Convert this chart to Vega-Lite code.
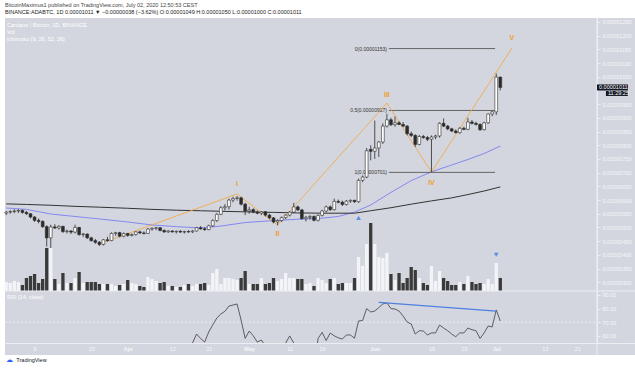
{
  "$schema": "https://vega.github.io/schema/vega-lite/v6.json",
  "width": 630,
  "height": 337,
  "autosize": {"type": "none"},
  "padding": {"left": 5, "top": 18, "right": 0, "bottom": 13},
  "background": "#ffffff",
  "config": {
    "view": {"fill": "#d3d6de", "stroke": null},
    "font": "Liberation Sans",
    "text": {"font": "Liberation Sans"}
  },
  "title": {
    "text": "BitcoinMaximus1 published on TradingView.com, July 02, 2020 12:50:53 CEST",
    "subtitle": "BINANCE:ADABTC, 1D  0.00001011 ▼ −0.00000038 (−3.62%)  O:0.00001049 H:0.00001050 L:0.00001000 C:0.00001011",
    "anchor": "start",
    "frame": "group",
    "font": "Liberation Sans",
    "subtitleFont": "Liberation Sans",
    "fontSize": 5.5,
    "fontWeight": "normal",
    "color": "#444444",
    "subtitleFontSize": 5.5,
    "subtitleColor": "#222222",
    "subtitlePadding": 2,
    "offset": 2
  },
  "datasets": {
    "candles": [
      {"date":"2020-03-02","open":0.00000552,"high":0.00000560,"low":0.00000545,"close":0.00000556,"volume":9},
      {"date":"2020-03-03","open":0.00000556,"high":0.00000563,"low":0.00000550,"close":0.00000558,"volume":8},
      {"date":"2020-03-04","open":0.00000558,"high":0.00000566,"low":0.00000552,"close":0.00000560,"volume":10},
      {"date":"2020-03-05","open":0.00000560,"high":0.00000567,"low":0.00000553,"close":0.00000562,"volume":9},
      {"date":"2020-03-06","open":0.00000562,"high":0.00000566,"low":0.00000550,"close":0.00000555,"volume":6},
      {"date":"2020-03-07","open":0.00000555,"high":0.00000560,"low":0.00000546,"close":0.00000550,"volume":13},
      {"date":"2020-03-08","open":0.00000550,"high":0.00000552,"low":0.00000533,"close":0.00000538,"volume":15},
      {"date":"2020-03-09","open":0.00000538,"high":0.00000542,"low":0.00000520,"close":0.00000526,"volume":17},
      {"date":"2020-03-10","open":0.00000526,"high":0.00000533,"low":0.00000515,"close":0.00000522,"volume":8},
      {"date":"2020-03-11","open":0.00000522,"high":0.00000526,"low":0.00000498,"close":0.00000503,"volume":12},
      {"date":"2020-03-12","open":0.00000503,"high":0.00000508,"low":0.00000430,"close":0.00000462,"volume":43},
      {"date":"2020-03-13","open":0.00000462,"high":0.00000510,"low":0.00000425,"close":0.00000502,"volume":43},
      {"date":"2020-03-14","open":0.00000502,"high":0.00000512,"low":0.00000494,"close":0.00000498,"volume":12},
      {"date":"2020-03-15","open":0.00000498,"high":0.00000508,"low":0.00000492,"close":0.00000504,"volume":7},
      {"date":"2020-03-16","open":0.00000504,"high":0.00000506,"low":0.00000480,"close":0.00000485,"volume":18},
      {"date":"2020-03-17","open":0.00000485,"high":0.00000492,"low":0.00000478,"close":0.00000487,"volume":8},
      {"date":"2020-03-18","open":0.00000487,"high":0.00000490,"low":0.00000476,"close":0.00000483,"volume":8},
      {"date":"2020-03-19","open":0.00000483,"high":0.00000510,"low":0.00000478,"close":0.00000500,"volume":13},
      {"date":"2020-03-20","open":0.00000500,"high":0.00000502,"low":0.00000470,"close":0.00000474,"volume":19},
      {"date":"2020-03-21","open":0.00000474,"high":0.00000480,"low":0.00000465,"close":0.00000476,"volume":8},
      {"date":"2020-03-22","open":0.00000476,"high":0.00000478,"low":0.00000458,"close":0.00000462,"volume":9},
      {"date":"2020-03-23","open":0.00000462,"high":0.00000466,"low":0.00000448,"close":0.00000452,"volume":9},
      {"date":"2020-03-24","open":0.00000452,"high":0.00000458,"low":0.00000440,"close":0.00000446,"volume":9},
      {"date":"2020-03-25","open":0.00000446,"high":0.00000450,"low":0.00000432,"close":0.00000438,"volume":7},
      {"date":"2020-03-26","open":0.00000438,"high":0.00000458,"low":0.00000434,"close":0.00000455,"volume":7},
      {"date":"2020-03-27","open":0.00000455,"high":0.00000466,"low":0.00000448,"close":0.00000452,"volume":7},
      {"date":"2020-03-28","open":0.00000452,"high":0.00000482,"low":0.00000450,"close":0.00000478,"volume":7},
      {"date":"2020-03-29","open":0.00000478,"high":0.00000484,"low":0.00000470,"close":0.00000481,"volume":5},
      {"date":"2020-03-30","open":0.00000481,"high":0.00000484,"low":0.00000464,"close":0.00000468,"volume":6},
      {"date":"2020-03-31","open":0.00000468,"high":0.00000482,"low":0.00000464,"close":0.00000478,"volume":7},
      {"date":"2020-04-01","open":0.00000478,"high":0.00000480,"low":0.00000466,"close":0.00000471,"volume":11},
      {"date":"2020-04-02","open":0.00000471,"high":0.00000478,"low":0.00000467,"close":0.00000474,"volume":8},
      {"date":"2020-04-03","open":0.00000474,"high":0.00000486,"low":0.00000470,"close":0.00000484,"volume":7},
      {"date":"2020-04-04","open":0.00000484,"high":0.00000488,"low":0.00000476,"close":0.00000480,"volume":5},
      {"date":"2020-04-05","open":0.00000480,"high":0.00000486,"low":0.00000474,"close":0.00000478,"volume":4},
      {"date":"2020-04-06","open":0.00000478,"high":0.00000498,"low":0.00000476,"close":0.00000494,"volume":14},
      {"date":"2020-04-07","open":0.00000494,"high":0.00000500,"low":0.00000488,"close":0.00000497,"volume":12},
      {"date":"2020-04-08","open":0.00000497,"high":0.00000502,"low":0.00000490,"close":0.00000499,"volume":10},
      {"date":"2020-04-09","open":0.00000499,"high":0.00000501,"low":0.00000486,"close":0.00000489,"volume":8},
      {"date":"2020-04-10","open":0.00000489,"high":0.00000493,"low":0.00000480,"close":0.00000484,"volume":9},
      {"date":"2020-04-11","open":0.00000484,"high":0.00000490,"low":0.00000480,"close":0.00000487,"volume":5},
      {"date":"2020-04-12","open":0.00000487,"high":0.00000490,"low":0.00000481,"close":0.00000484,"volume":5},
      {"date":"2020-04-13","open":0.00000484,"high":0.00000489,"low":0.00000478,"close":0.00000486,"volume":4},
      {"date":"2020-04-14","open":0.00000486,"high":0.00000490,"low":0.00000481,"close":0.00000483,"volume":4},
      {"date":"2020-04-15","open":0.00000483,"high":0.00000488,"low":0.00000478,"close":0.00000485,"volume":6},
      {"date":"2020-04-16","open":0.00000485,"high":0.00000490,"low":0.00000480,"close":0.00000484,"volume":7},
      {"date":"2020-04-17","open":0.00000484,"high":0.00000490,"low":0.00000480,"close":0.00000487,"volume":5},
      {"date":"2020-04-18","open":0.00000487,"high":0.00000502,"low":0.00000485,"close":0.00000499,"volume":7},
      {"date":"2020-04-19","open":0.00000499,"high":0.00000505,"low":0.00000492,"close":0.00000495,"volume":7},
      {"date":"2020-04-20","open":0.00000495,"high":0.00000500,"low":0.00000488,"close":0.00000492,"volume":8},
      {"date":"2020-04-21","open":0.00000492,"high":0.00000510,"low":0.00000490,"close":0.00000506,"volume":6},
      {"date":"2020-04-22","open":0.00000506,"high":0.00000530,"low":0.00000502,"close":0.00000525,"volume":18},
      {"date":"2020-04-23","open":0.00000525,"high":0.00000552,"low":0.00000520,"close":0.00000548,"volume":22},
      {"date":"2020-04-24","open":0.00000548,"high":0.00000578,"low":0.00000545,"close":0.00000572,"volume":7},
      {"date":"2020-04-25","open":0.00000572,"high":0.00000585,"low":0.00000562,"close":0.00000576,"volume":13},
      {"date":"2020-04-26","open":0.00000576,"high":0.00000605,"low":0.00000565,"close":0.00000600,"volume":13},
      {"date":"2020-04-27","open":0.00000600,"high":0.00000612,"low":0.00000592,"close":0.00000606,"volume":12},
      {"date":"2020-04-28","open":0.00000606,"high":0.00000615,"low":0.00000598,"close":0.00000608,"volume":11},
      {"date":"2020-04-29","open":0.00000608,"high":0.00000612,"low":0.00000580,"close":0.00000585,"volume":13},
      {"date":"2020-04-30","open":0.00000585,"high":0.00000590,"low":0.00000545,"close":0.00000560,"volume":20},
      {"date":"2020-05-01","open":0.00000560,"high":0.00000575,"low":0.00000550,"close":0.00000565,"volume":7},
      {"date":"2020-05-02","open":0.00000565,"high":0.00000570,"low":0.00000552,"close":0.00000556,"volume":7},
      {"date":"2020-05-03","open":0.00000556,"high":0.00000562,"low":0.00000548,"close":0.00000552,"volume":7},
      {"date":"2020-05-04","open":0.00000552,"high":0.00000560,"low":0.00000545,"close":0.00000557,"volume":13},
      {"date":"2020-05-05","open":0.00000557,"high":0.00000560,"low":0.00000540,"close":0.00000545,"volume":7},
      {"date":"2020-05-06","open":0.00000545,"high":0.00000550,"low":0.00000530,"close":0.00000535,"volume":8},
      {"date":"2020-05-07","open":0.00000535,"high":0.00000538,"low":0.00000515,"close":0.00000520,"volume":13},
      {"date":"2020-05-08","open":0.00000520,"high":0.00000530,"low":0.00000508,"close":0.00000525,"volume":10},
      {"date":"2020-05-09","open":0.00000525,"high":0.00000540,"low":0.00000520,"close":0.00000536,"volume":12},
      {"date":"2020-05-10","open":0.00000536,"high":0.00000548,"low":0.00000530,"close":0.00000545,"volume":18},
      {"date":"2020-05-11","open":0.00000545,"high":0.00000560,"low":0.00000540,"close":0.00000556,"volume":13},
      {"date":"2020-05-12","open":0.00000556,"high":0.00000590,"low":0.00000552,"close":0.00000575,"volume":13},
      {"date":"2020-05-13","open":0.00000575,"high":0.00000580,"low":0.00000560,"close":0.00000564,"volume":12},
      {"date":"2020-05-14","open":0.00000564,"high":0.00000568,"low":0.00000528,"close":0.00000532,"volume":12},
      {"date":"2020-05-15","open":0.00000532,"high":0.00000542,"low":0.00000522,"close":0.00000537,"volume":7},
      {"date":"2020-05-16","open":0.00000537,"high":0.00000545,"low":0.00000528,"close":0.00000540,"volume":8},
      {"date":"2020-05-17","open":0.00000540,"high":0.00000544,"low":0.00000522,"close":0.00000526,"volume":5},
      {"date":"2020-05-18","open":0.00000526,"high":0.00000548,"low":0.00000522,"close":0.00000544,"volume":13},
      {"date":"2020-05-19","open":0.00000544,"high":0.00000565,"low":0.00000540,"close":0.00000560,"volume":11},
      {"date":"2020-05-20","open":0.00000560,"high":0.00000580,"low":0.00000555,"close":0.00000575,"volume":8},
      {"date":"2020-05-21","open":0.00000575,"high":0.00000580,"low":0.00000560,"close":0.00000565,"volume":12},
      {"date":"2020-05-22","open":0.00000565,"high":0.00000605,"low":0.00000562,"close":0.00000595,"volume":13},
      {"date":"2020-05-23","open":0.00000595,"high":0.00000602,"low":0.00000588,"close":0.00000592,"volume":7},
      {"date":"2020-05-24","open":0.00000592,"high":0.00000598,"low":0.00000578,"close":0.00000584,"volume":8},
      {"date":"2020-05-25","open":0.00000584,"high":0.00000600,"low":0.00000580,"close":0.00000596,"volume":8},
      {"date":"2020-05-26","open":0.00000596,"high":0.00000602,"low":0.00000590,"close":0.00000599,"volume":8},
      {"date":"2020-05-27","open":0.00000599,"high":0.00000601,"low":0.00000590,"close":0.00000594,"volume":13},
      {"date":"2020-05-28","open":0.00000594,"high":0.00000678,"low":0.00000590,"close":0.00000672,"volume":34},
      {"date":"2020-05-29","open":0.00000672,"high":0.00000690,"low":0.00000665,"close":0.00000684,"volume":25},
      {"date":"2020-05-30","open":0.00000684,"high":0.00000790,"low":0.00000680,"close":0.00000780,"volume":47},
      {"date":"2020-05-31","open":0.00000785,"high":0.00000800,"low":0.00000745,"close":0.00000778,"volume":68},
      {"date":"2020-06-01","open":0.00000778,"high":0.00000890,"low":0.00000750,"close":0.00000790,"volume":47},
      {"date":"2020-06-02","open":0.00000790,"high":0.00000815,"low":0.00000757,"close":0.00000812,"volume":34},
      {"date":"2020-06-03","open":0.00000812,"high":0.00000880,"low":0.00000805,"close":0.00000870,"volume":33},
      {"date":"2020-06-04","open":0.00000870,"high":0.00000915,"low":0.00000865,"close":0.00000893,"volume":38},
      {"date":"2020-06-05","open":0.00000893,"high":0.00000900,"low":0.00000870,"close":0.00000875,"volume":17},
      {"date":"2020-06-06","open":0.00000875,"high":0.00000905,"low":0.00000868,"close":0.00000882,"volume":11},
      {"date":"2020-06-07","open":0.00000882,"high":0.00000888,"low":0.00000874,"close":0.00000876,"volume":18},
      {"date":"2020-06-08","open":0.00000876,"high":0.00000885,"low":0.00000866,"close":0.00000870,"volume":8},
      {"date":"2020-06-09","open":0.00000870,"high":0.00000874,"low":0.00000836,"close":0.00000842,"volume":13},
      {"date":"2020-06-10","open":0.00000842,"high":0.00000850,"low":0.00000830,"close":0.00000836,"volume":24},
      {"date":"2020-06-11","open":0.00000836,"high":0.00000840,"low":0.00000794,"close":0.00000803,"volume":21},
      {"date":"2020-06-12","open":0.00000803,"high":0.00000838,"low":0.00000800,"close":0.00000832,"volume":13},
      {"date":"2020-06-13","open":0.00000832,"high":0.00000838,"low":0.00000824,"close":0.00000828,"volume":8},
      {"date":"2020-06-14","open":0.00000828,"high":0.00000834,"low":0.00000815,"close":0.00000822,"volume":6},
      {"date":"2020-06-15","open":0.00000822,"high":0.00000836,"low":0.00000702,"close":0.00000830,"volume":25},
      {"date":"2020-06-16","open":0.00000830,"high":0.00000838,"low":0.00000822,"close":0.00000834,"volume":10},
      {"date":"2020-06-17","open":0.00000834,"high":0.00000884,"low":0.00000828,"close":0.00000880,"volume":20},
      {"date":"2020-06-18","open":0.00000880,"high":0.00000898,"low":0.00000866,"close":0.00000870,"volume":13},
      {"date":"2020-06-19","open":0.00000870,"high":0.00000874,"low":0.00000855,"close":0.00000860,"volume":10},
      {"date":"2020-06-20","open":0.00000860,"high":0.00000864,"low":0.00000848,"close":0.00000852,"volume":6},
      {"date":"2020-06-21","open":0.00000852,"high":0.00000858,"low":0.00000843,"close":0.00000846,"volume":6},
      {"date":"2020-06-22","open":0.00000846,"high":0.00000866,"low":0.00000842,"close":0.00000862,"volume":9},
      {"date":"2020-06-23","open":0.00000862,"high":0.00000868,"low":0.00000855,"close":0.00000858,"volume":7},
      {"date":"2020-06-24","open":0.00000858,"high":0.00000900,"low":0.00000855,"close":0.00000885,"volume":15},
      {"date":"2020-06-25","open":0.00000885,"high":0.00000892,"low":0.00000876,"close":0.00000880,"volume":9},
      {"date":"2020-06-26","open":0.00000880,"high":0.00000886,"low":0.00000872,"close":0.00000876,"volume":7},
      {"date":"2020-06-27","open":0.00000876,"high":0.00000880,"low":0.00000852,"close":0.00000857,"volume":8},
      {"date":"2020-06-28","open":0.00000857,"high":0.00000886,"low":0.00000854,"close":0.00000882,"volume":7},
      {"date":"2020-06-29","open":0.00000882,"high":0.00000916,"low":0.00000878,"close":0.00000914,"volume":12},
      {"date":"2020-06-30","open":0.00000914,"high":0.00000926,"low":0.00000906,"close":0.00000922,"volume":7},
      {"date":"2020-07-01","open":0.00000922,"high":0.00001062,"low":0.00000910,"close":0.00001049,"volume":28},
      {"date":"2020-07-02","open":0.00001049,"high":0.00001050,"low":0.00001000,"close":0.00001011,"volume":13}
    ],
    "ma": [
      {"date":"2020-03-02","fast":0.00000571,"slow":0.00000586},
      {"date":"2020-03-07","fast":0.00000566,"slow":0.00000584},
      {"date":"2020-03-13","fast":0.00000549,"slow":0.00000581},
      {"date":"2020-03-19","fast":0.00000540,"slow":0.00000577},
      {"date":"2020-03-25","fast":0.00000531,"slow":0.00000574},
      {"date":"2020-04-01","fast":0.00000520,"slow":0.00000570},
      {"date":"2020-04-07","fast":0.00000509,"slow":0.00000566},
      {"date":"2020-04-13","fast":0.00000503,"slow":0.00000563},
      {"date":"2020-04-19","fast":0.00000498,"slow":0.00000561},
      {"date":"2020-04-24","fast":0.00000505,"slow":0.00000559},
      {"date":"2020-04-30","fast":0.00000518,"slow":0.00000557},
      {"date":"2020-05-07","fast":0.00000525,"slow":0.00000555},
      {"date":"2020-05-13","fast":0.00000530,"slow":0.00000553},
      {"date":"2020-05-19","fast":0.00000534,"slow":0.00000552},
      {"date":"2020-05-23","fast":0.00000540,"slow":0.00000552},
      {"date":"2020-05-27","fast":0.00000556,"slow":0.00000552},
      {"date":"2020-05-31","fast":0.00000582,"slow":0.00000561},
      {"date":"2020-06-05","fast":0.00000628,"slow":0.00000572},
      {"date":"2020-06-10","fast":0.00000671,"slow":0.00000585},
      {"date":"2020-06-15","fast":0.00000703,"slow":0.00000597},
      {"date":"2020-06-20","fast":0.00000728,"slow":0.00000608},
      {"date":"2020-06-24","fast":0.00000748,"slow":0.00000620},
      {"date":"2020-06-28","fast":0.00000770,"slow":0.00000633},
      {"date":"2020-07-02","fast":0.00000797,"slow":0.00000648}
    ],
    "wave": [
      {"date":"2020-03-25","price":0.00000440},
      {"date":"2020-04-28","price":0.00000622},
      {"date":"2020-05-08","price":0.00000509},
      {"date":"2020-06-04","price":0.00000954},
      {"date":"2020-06-15","price":0.00000702},
      {"date":"2020-07-04T21:00:00Z","price":0.00001155}
    ],
    "waveLabels": [
      {"date":"2020-04-28","price":0.00000659,"label":"I"},
      {"date":"2020-05-08","price":0.00000476,"label":"II"},
      {"date":"2020-06-04","price":0.00000983,"label":"III"},
      {"date":"2020-06-15","price":0.00000664,"label":"IV"},
      {"date":"2020-07-04T21:00:00Z","price":0.00001192,"label":"V"}
    ],
    "fib": [
      {"date":"2020-06-04T12:00:00Z","end":"2020-06-30T17:00:00Z","level":0.00001153,"label":"0(0.00001153)"},
      {"date":"2020-06-04T12:00:00Z","end":"2020-06-30T17:00:00Z","level":0.00000927,"label":"0.5(0.00000927)"},
      {"date":"2020-06-04T12:00:00Z","end":"2020-06-30T17:00:00Z","level":0.00000701,"label":"1(0.00000701)"}
    ],
    "signals": [
      {"date":"2020-05-28","price":0.00000535,"shape":"triangle-up"},
      {"date":"2020-07-01","price":0.00000400,"shape":"triangle-down"}
    ],
    "legend": [
      {"date":"2020-03-02T05:00:00Z","price":0.00001239,"text":"Cardano / Bitcoin, 1D, BINANCE"},
      {"date":"2020-03-02T05:00:00Z","price":0.00001214,"text":"Vol"},
      {"date":"2020-03-02T05:00:00Z","price":0.00001188,"text":"Ichimoku (9, 26, 52, 26)"}
    ],
    "priceBox": [
      {"date":"2020-07-25T21:00:00Z","end":"2020-08-02T12:00:00Z","top":0.00001022,"bottom":0.00001000},
      {"date":"2020-07-28T02:00:00Z","end":"2020-08-02T12:00:00Z","top":0.00000998,"bottom":0.00000980}
    ],
    "priceBoxText": [
      {"date":"2020-07-26T09:00:00Z","price":0.00001011,"text":"0.00001011"},
      {"date":"2020-07-28T14:00:00Z","price":0.00000989,"text":"11:29:25"}
    ],
    "panelBottom": [
      {"date":"2020-03-01T16:48:00Z","end":"2020-08-04T06:14:00Z","price":0.00000268}
    ],
    "axisEdge": [
      {"date":"2020-07-25T21:00:00Z"}
    ],
    "rsiLevel": [
      {"date":"2020-03-01T16:48:00Z","end":"2020-07-25T21:00:00Z","rsi":70}
    ],
    "rsi": [
      {"date":"2020-04-17","rsi":54.7,"seg":1},
      {"date":"2020-04-18","rsi":61.3,"seg":1},
      {"date":"2020-04-19","rsi":58.0,"seg":1},
      {"date":"2020-04-20","rsi":55.4,"seg":1},
      {"date":"2020-04-21","rsi":62.8,"seg":1},
      {"date":"2020-04-22","rsi":68.0,"seg":1},
      {"date":"2020-04-23","rsi":73.1,"seg":1},
      {"date":"2020-04-24","rsi":76.0,"seg":1},
      {"date":"2020-04-25","rsi":78.0,"seg":1},
      {"date":"2020-04-26","rsi":81.9,"seg":1},
      {"date":"2020-04-27","rsi":82.6,"seg":1},
      {"date":"2020-04-28","rsi":83.4,"seg":1},
      {"date":"2020-04-29","rsi":71.6,"seg":1},
      {"date":"2020-04-30","rsi":58.1,"seg":1},
      {"date":"2020-05-01","rsi":63.5,"seg":1},
      {"date":"2020-05-02","rsi":60.0,"seg":1},
      {"date":"2020-05-03","rsi":55.4,"seg":1},
      {"date":"2020-05-04","rsi":56.9,"seg":1},
      {"date":"2020-05-04T12:00:00Z","rsi":54.7,"seg":1},
      {"date":"2020-05-10","rsi":54.7,"seg":2},
      {"date":"2020-05-11","rsi":59.9,"seg":2},
      {"date":"2020-05-12","rsi":54.7,"seg":2},
      {"date":"2020-05-17T21:00:00Z","rsi":54.7,"seg":3},
      {"date":"2020-05-18","rsi":58.0,"seg":3},
      {"date":"2020-05-19","rsi":62.5,"seg":3},
      {"date":"2020-05-20","rsi":56.5,"seg":3},
      {"date":"2020-05-21","rsi":62.0,"seg":3},
      {"date":"2020-05-22","rsi":60.0,"seg":3},
      {"date":"2020-05-23","rsi":58.5,"seg":3},
      {"date":"2020-05-24","rsi":57.6,"seg":3},
      {"date":"2020-05-25","rsi":60.6,"seg":3},
      {"date":"2020-05-26","rsi":60.6,"seg":3},
      {"date":"2020-05-27","rsi":58.2,"seg":3},
      {"date":"2020-05-28","rsi":70.9,"seg":3},
      {"date":"2020-05-29","rsi":71.25,"seg":3},
      {"date":"2020-05-30","rsi":80.0,"seg":3},
      {"date":"2020-05-31","rsi":77.5,"seg":3},
      {"date":"2020-06-01","rsi":78.2,"seg":3},
      {"date":"2020-06-02","rsi":80.7,"seg":3},
      {"date":"2020-06-03","rsi":83.4,"seg":3},
      {"date":"2020-06-04","rsi":84.2,"seg":3},
      {"date":"2020-06-05","rsi":80.0,"seg":3},
      {"date":"2020-06-06","rsi":79.7,"seg":3},
      {"date":"2020-06-07","rsi":78.2,"seg":3},
      {"date":"2020-06-08","rsi":74.5,"seg":3},
      {"date":"2020-06-09","rsi":70.1,"seg":3},
      {"date":"2020-06-10","rsi":68.7,"seg":3},
      {"date":"2020-06-11","rsi":61.3,"seg":3},
      {"date":"2020-06-12","rsi":63.75,"seg":3},
      {"date":"2020-06-13","rsi":63.5,"seg":3},
      {"date":"2020-06-14","rsi":60.6,"seg":3},
      {"date":"2020-06-15","rsi":62.1,"seg":3},
      {"date":"2020-06-16","rsi":62.1,"seg":3},
      {"date":"2020-06-17","rsi":67.9,"seg":3},
      {"date":"2020-06-18","rsi":65.7,"seg":3},
      {"date":"2020-06-19","rsi":63.75,"seg":3},
      {"date":"2020-06-20","rsi":61.3,"seg":3},
      {"date":"2020-06-21","rsi":59.3,"seg":3},
      {"date":"2020-06-22","rsi":62.1,"seg":3},
      {"date":"2020-06-23","rsi":62.1,"seg":3},
      {"date":"2020-06-24","rsi":65.7,"seg":3},
      {"date":"2020-06-25","rsi":64.5,"seg":3},
      {"date":"2020-06-26","rsi":63.75,"seg":3},
      {"date":"2020-06-27","rsi":58.0,"seg":3},
      {"date":"2020-06-28","rsi":62.1,"seg":3},
      {"date":"2020-06-29","rsi":67.2,"seg":3},
      {"date":"2020-06-30","rsi":66.5,"seg":3},
      {"date":"2020-07-01","rsi":79.0,"seg":3},
      {"date":"2020-07-02","rsi":70.9,"seg":3}
    ],
    "divergence": [
      {"date":"2020-06-02","rsi":84.5},
      {"date":"2020-07-01","rsi":78.2}
    ],
    "rsiTitle": [
      {"date":"2020-03-02T05:00:00Z","rsi":88.5,"text":"RSI (14, close)"}
    ],
    "logoIcon": [
      {"date":"2020-03-02T00:00:00Z","rsi":42.2,"text":"☁"}
    ],
    "logoText": [
      {"date":"2020-03-04T12:00:00Z","rsi":42.2,"text":"TradingView"}
    ]
  },
  "encoding": {
    "x": {
      "field": "date", "type": "temporal",
      "scale": {"type": "utc", "domain": [1583081280000, 1596521640000], "padding": 0},
      "axis": {
        "orient": "bottom", "offset": -12, "title": null, "grid": false, "ticks": false,
        "domain": true, "domainColor": "#eceef2", "domainWidth": 1,
        "values": [1583712000000, 1584921600000, 1585699200000, 1586649600000, 1587427200000, 1588291200000, 1589155200000, 1589846400000, 1590969600000, 1592179200000, 1592870400000, 1593561600000, 1594598400000, 1595289600000],
        "labelExpr": "utcdate(datum.value) === 1 ? utcFormat(datum.value, '%b') : utcFormat(datum.value, '%-d')",
        "labelFont": "Liberation Sans", "labelFontSize": 5.5, "labelColor": "#f5f6f8",
        "labelFontWeight": {"condition": {"test": "utcdate(datum.value) === 1", "value": "bold"}, "value": "normal"},
        "labelPadding": 3, "labelFlush": false, "labelOverlap": false
      }
    }
  },
  "layer": [
    {
      "data": {"name": "candles"},
      "mark": {"type": "bar", "width": 3.3},
      "encoding": {
        "y": {"field": "volume", "type": "quantitative", "scale": {"domain": [0, 273], "range": [273, 0], "nice": false}, "axis": null},
        "color": {"condition": {"test": "datum.close >= datum.open", "value": "#f3f4f7"}, "value": "#3a3a3a"}
      }
    },
    {
      "data": {"name": "ma"},
      "mark": {"type": "line", "color": "#7b7ff0", "strokeWidth": 0.9},
      "encoding": {
        "y": {"field": "fast", "type": "quantitative", "scale": {"domain": [0.00000268, 0.000012646], "range": [273, 0], "zero": false, "nice": false}, "axis": null}
      }
    },
    {
      "data": {"name": "ma"},
      "mark": {"type": "line", "color": "#333333", "strokeWidth": 1},
      "encoding": {
        "y": {"field": "slow", "type": "quantitative", "scale": {"domain": [0.00000268, 0.000012646], "range": [273, 0], "zero": false, "nice": false}, "axis": null}
      }
    },
    {
      "data": {"name": "fib"},
      "mark": {"type": "rule", "color": "#474747", "strokeWidth": 0.8},
      "encoding": {
        "x2": {"field": "end"},
        "y": {"field": "level", "type": "quantitative", "scale": {"domain": [0.00000268, 0.000012646], "range": [273, 0], "zero": false, "nice": false}, "axis": null}
      }
    },
    {
      "data": {"name": "fib"},
      "mark": {"type": "text", "align": "right", "baseline": "middle", "dx": -2, "fontSize": 5, "color": "#333333"},
      "encoding": {
        "y": {"field": "level", "type": "quantitative", "scale": {"domain": [0.00000268, 0.000012646], "range": [273, 0], "zero": false, "nice": false}, "axis": null},
        "text": {"field": "label"}
      }
    },
    {
      "data": {"name": "wave"},
      "mark": {"type": "line", "color": "#f4a63c", "strokeWidth": 0.8},
      "encoding": {
        "y": {"field": "price", "type": "quantitative", "scale": {"domain": [0.00000268, 0.000012646], "range": [273, 0], "zero": false, "nice": false}, "axis": null}
      }
    },
    {
      "data": {"name": "waveLabels"},
      "mark": {"type": "text", "align": "center", "baseline": "middle", "fontSize": 7, "fontWeight": "bold", "color": "#f29d2b"},
      "encoding": {
        "y": {"field": "price", "type": "quantitative", "scale": {"domain": [0.00000268, 0.000012646], "range": [273, 0], "zero": false, "nice": false}, "axis": null},
        "text": {"field": "label"}
      }
    },
    {
      "data": {"name": "candles"},
      "mark": {"type": "rule", "color": "#2b2b2b", "strokeWidth": 0.8},
      "encoding": {
        "y": {"field": "low", "type": "quantitative", "scale": {"domain": [0.00000268, 0.000012646], "range": [273, 0], "zero": false, "nice": false},
          "axis": {
            "orient": "right", "offset": -38, "title": null, "grid": false,
            "values": [0.000003, 0.0000035, 0.000004, 0.0000045, 0.000005, 0.0000055, 0.000006, 0.0000065, 0.000007, 0.0000075, 0.000008, 0.0000085, 0.000009, 0.0000095, 0.0000105, 0.000011, 0.0000115, 0.000012, 0.0000125],
            "format": ".8f", "labelFont": "Liberation Sans", "labelFontSize": 5.5, "labelColor": "#f5f6f8",
            "tickSize": 3, "tickColor": "#eceef2", "domainColor": "#eceef2", "domainWidth": 1,
            "labelPadding": 2, "labelFlush": false, "labelOverlap": false
          }
        },
        "y2": {"field": "high"}
      }
    },
    {
      "data": {"name": "candles"},
      "mark": {"type": "bar", "width": 2.8, "stroke": "#2b2b2b", "strokeWidth": 0.6},
      "encoding": {
        "y": {"field": "open", "type": "quantitative", "scale": {"domain": [0.00000268, 0.000012646], "range": [273, 0], "zero": false, "nice": false}, "axis": null},
        "y2": {"field": "close"},
        "fill": {"condition": {"test": "datum.close >= datum.open", "value": "#ffffff"}, "value": "#2b2b2b"}
      }
    },
    {
      "data": {"name": "signals"},
      "mark": {"type": "point", "filled": true, "size": 22, "color": "#5b8be3", "opacity": 1},
      "encoding": {
        "y": {"field": "price", "type": "quantitative", "scale": {"domain": [0.00000268, 0.000012646], "range": [273, 0], "zero": false, "nice": false}, "axis": null},
        "shape": {"field": "shape", "type": "nominal", "scale": null}
      }
    },
    {
      "data": {"name": "legend"},
      "mark": {"type": "text", "align": "left", "baseline": "middle", "fontSize": 5.5, "color": "#ffffff"},
      "encoding": {
        "y": {"field": "price", "type": "quantitative", "scale": {"domain": [0.00000268, 0.000012646], "range": [273, 0], "zero": false, "nice": false}, "axis": null},
        "text": {"field": "text"}
      }
    },
    {
      "data": {"name": "panelBottom"},
      "mark": {"type": "rule", "color": "#eceef2", "strokeWidth": 1},
      "encoding": {
        "x2": {"field": "end"},
        "y": {"field": "price", "type": "quantitative", "scale": {"domain": [0.00000268, 0.000012646], "range": [273, 0], "zero": false, "nice": false}, "axis": null}
      }
    },
    {
      "data": {"name": "axisEdge"},
      "mark": {"type": "rule", "color": "#eceef2", "strokeWidth": 1},
      "encoding": {}
    },
    {
      "data": {"name": "priceBox"},
      "mark": {"type": "rect", "color": "#131722"},
      "encoding": {
        "x2": {"field": "end"},
        "y": {"field": "top", "type": "quantitative", "scale": {"domain": [0.00000268, 0.000012646], "range": [273, 0], "zero": false, "nice": false}, "axis": null},
        "y2": {"field": "bottom"}
      }
    },
    {
      "data": {"name": "priceBoxText"},
      "mark": {"type": "text", "align": "left", "baseline": "middle", "fontSize": 5.5, "color": "#ffffff"},
      "encoding": {
        "y": {"field": "price", "type": "quantitative", "scale": {"domain": [0.00000268, 0.000012646], "range": [273, 0], "zero": false, "nice": false}, "axis": null},
        "text": {"field": "text"}
      }
    },
    {
      "data": {"name": "rsiLevel"},
      "mark": {"type": "rule", "color": "#f3f4f6", "strokeWidth": 0.8, "strokeDash": [2, 2]},
      "encoding": {
        "x2": {"field": "end"},
        "y": {"field": "rsi", "type": "quantitative", "scale": {"domain": [54.7, 92.2], "range": [325, 274], "zero": false, "nice": false}, "axis": null}
      }
    },
    {
      "data": {"name": "rsi"},
      "mark": {"type": "line", "color": "#3d3d3d", "strokeWidth": 0.8},
      "encoding": {
        "y": {"field": "rsi", "type": "quantitative", "scale": {"domain": [54.7, 92.2], "range": [325, 274], "zero": false, "nice": false},
          "axis": {
            "orient": "right", "offset": -38, "title": null, "grid": false,
            "values": [60, 70, 80, 90], "format": ".2f",
            "labelFont": "Liberation Sans", "labelFontSize": 5.5, "labelColor": "#f5f6f8",
            "tickSize": 3, "tickColor": "#eceef2", "domainColor": "#eceef2", "domainWidth": 1,
            "labelPadding": 2, "labelFlush": false, "labelOverlap": false
          }
        },
        "detail": {"field": "seg", "type": "nominal"}
      }
    },
    {
      "data": {"name": "divergence"},
      "mark": {"type": "line", "color": "#4f7fe0", "strokeWidth": 1.2},
      "encoding": {
        "y": {"field": "rsi", "type": "quantitative", "scale": {"domain": [54.7, 92.2], "range": [325, 274], "zero": false, "nice": false}, "axis": null}
      }
    },
    {
      "data": {"name": "rsiTitle"},
      "mark": {"type": "text", "align": "left", "baseline": "middle", "fontSize": 5.5, "color": "#ffffff"},
      "encoding": {
        "y": {"field": "rsi", "type": "quantitative", "scale": {"domain": [54.7, 92.2], "range": [325, 274], "zero": false, "nice": false}, "axis": null},
        "text": {"field": "text"}
      }
    },
    {
      "data": {"name": "logoIcon"},
      "mark": {"type": "text", "align": "left", "baseline": "middle", "fontSize": 7, "color": "#2962ff"},
      "encoding": {
        "y": {"field": "rsi", "type": "quantitative", "scale": {"domain": [54.7, 92.2], "range": [325, 274], "zero": false, "nice": false}, "axis": null},
        "text": {"field": "text"}
      }
    },
    {
      "data": {"name": "logoText"},
      "mark": {"type": "text", "align": "left", "baseline": "middle", "fontSize": 5.5, "color": "#131722"},
      "encoding": {
        "y": {"field": "rsi", "type": "quantitative", "scale": {"domain": [54.7, 92.2], "range": [325, 274], "zero": false, "nice": false}, "axis": null},
        "text": {"field": "text"}
      }
    }
  ],
  "resolve": {"scale": {"y": "independent"}, "axis": {"y": "independent"}}
}
